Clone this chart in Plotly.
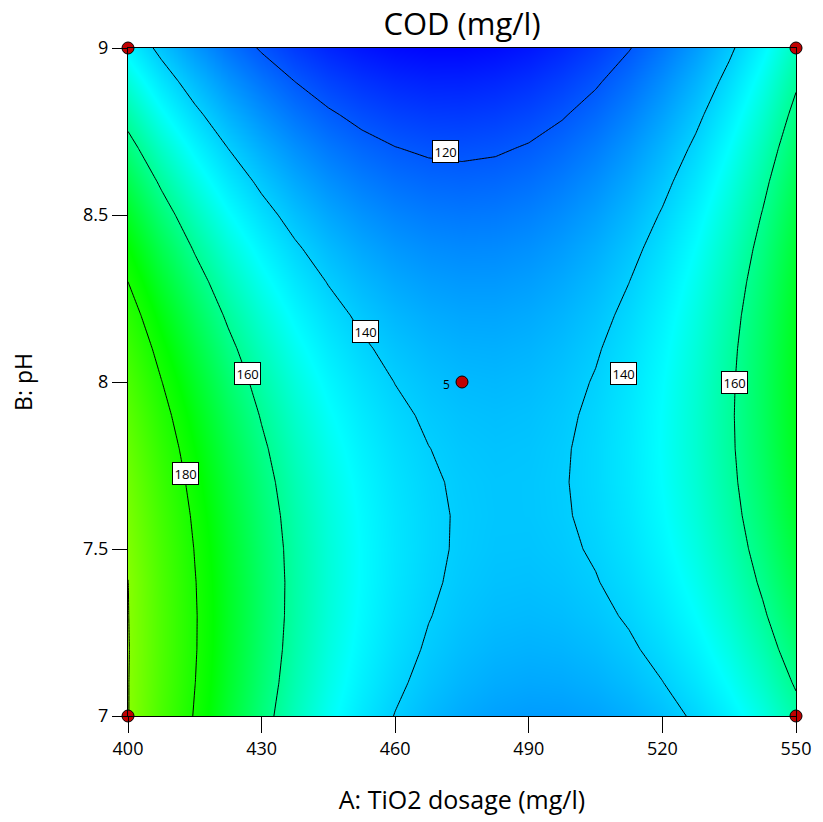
import plotly.graph_objects as go

# Factor levels (grid of the response surface)
tio2_dosage = [400, 407.5, 415, 422.5, 430, 437.5, 445, 452.5, 460, 467.5, 475,
               482.5, 490, 497.5, 505, 512.5, 520, 527.5, 535, 542.5, 550]
ph_levels = [7.0, 7.1, 7.2, 7.3, 7.4, 7.5, 7.6, 7.7, 7.8, 7.9, 8.0,
             8.1, 8.2, 8.3, 8.4, 8.5, 8.6, 8.7, 8.8, 8.9, 9.0]

# COD (mg/l), one row per pH level (bottom to top)
cod_ph_7_0 = [200.3, 189.17, 179.41, 170.56, 162.60, 155.54, 149.39, 144.13, 139.78, 136.32, 133.76,
              132.11, 131.35, 131.50, 132.54, 134.48, 137.33, 141.07, 145.72, 151.26, 157.70]
cod_ph_7_1 = [200.29, 189.77, 180.14, 171.42, 163.59, 156.66, 150.64, 145.51, 141.28, 137.96, 135.53,
              134.00, 133.38, 133.65, 134.82, 136.90, 139.87, 143.75, 148.52, 154.19, 160.77]
cod_ph_7_2 = [200.43, 190.03, 180.54, 171.94, 164.24, 157.45, 151.55, 146.55, 142.46, 139.26, 136.96,
              135.57, 135.07, 135.47, 136.78, 138.98, 142.08, 146.09, 150.99, 156.79, 163.50]
cod_ph_7_3 = [200.24, 189.97, 180.60, 172.13, 164.57, 157.90, 152.13, 147.27, 143.30, 140.23, 138.06,
              136.80, 136.43, 136.96, 138.40, 140.73, 143.96, 148.09, 153.13, 159.06, 165.89]
cod_ph_7_4 = [200.1, 189.57, 180.33, 172.00, 164.56, 158.02, 152.38, 147.65, 143.81, 140.87, 138.83,
              137.69, 137.46, 138.12, 139.68, 142.14, 145.51, 149.77, 154.93, 160.99, 167.96]
cod_ph_7_5 = [198.85, 188.84, 179.73, 171.53, 164.22, 157.81, 152.30, 147.69, 143.99, 141.18, 139.27,
              138.26, 138.15, 138.95, 140.64, 143.23, 146.72, 151.11, 156.41, 162.60, 169.69]
cod_ph_7_6 = [197.66, 187.78, 178.80, 170.72, 163.54, 157.26, 151.89, 147.41, 143.83, 141.15, 139.37,
              138.49, 138.52, 139.44, 141.26, 143.98, 147.60, 152.12, 157.55, 163.87, 171.09]
cod_ph_7_7 = [196.13, 186.38, 177.53, 169.59, 162.54, 156.39, 151.14, 146.79, 143.34, 140.79, 139.14,
              138.40, 138.55, 139.60, 141.55, 144.40, 148.15, 152.80, 158.35, 164.81, 172.16]
cod_ph_7_8 = [194.28, 184.66, 175.94, 168.12, 161.20, 155.18, 150.06, 145.84, 142.52, 140.10, 138.58,
              137.96, 138.25, 139.43, 141.51, 144.49, 148.37, 153.15, 158.83, 165.41, 172.89]
cod_ph_7_9 = [192.09, 182.60, 174.01, 166.32, 159.53, 153.64, 148.65, 144.56, 141.37, 139.08, 137.69,
              137.20, 137.61, 138.92, 141.13, 144.24, 148.25, 153.16, 158.97, 165.68, 173.29]
cod_ph_8_0 = [189.56, 180.20, 171.74, 164.18, 157.52, 151.76, 146.90, 142.94, 139.88, 137.72, 136.46,
              136.10, 136.64, 138.08, 140.42, 143.66, 147.80, 152.84, 158.78, 165.62, 173.36]
cod_ph_8_1 = [186.71, 177.48, 169.15, 161.72, 155.19, 149.56, 144.83, 141.00, 138.07, 136.04, 134.91,
              134.68, 135.35, 136.92, 139.39, 142.76, 147.03, 152.19, 158.26, 165.23, 173.10]
cod_ph_8_2 = [183.52, 174.42, 166.22, 158.92, 152.52, 147.02, 142.42, 138.72, 135.92, 134.02, 133.02,
              132.92, 133.72, 135.42, 138.01, 141.51, 145.91, 151.21, 157.41, 164.51, 172.51]
cod_ph_8_3 = [180.01, 171.04, 162.96, 155.79, 149.52, 144.15, 139.68, 136.11, 133.44, 131.67, 130.79,
              130.82, 131.75, 133.58, 136.31, 139.94, 144.47, 149.90, 156.22, 163.45, 171.58]
cod_ph_8_4 = [176.16, 167.31, 159.37, 152.33, 146.19, 140.95, 136.61, 133.16, 130.62, 128.98, 128.24,
              128.40, 129.46, 131.41, 134.27, 138.03, 142.69, 148.25, 154.71, 162.07, 170.32]
cod_ph_8_5 = [171.97, 163.26, 155.45, 148.54, 142.52, 137.41, 133.20, 129.89, 127.48, 125.96, 125.35,
              125.64, 126.83, 128.92, 131.90, 135.79, 140.58, 146.27, 152.86, 160.34, 168.73]
cod_ph_8_6 = [167.46, 158.88, 151.19, 144.41, 138.53, 133.55, 129.46, 126.28, 124.00, 122.62, 122.13,
              122.55, 123.87, 126.09, 129.20, 133.22, 138.14, 143.96, 150.67, 158.29, 166.81]
cod_ph_8_7 = [162.61, 154.16, 146.60, 139.95, 134.20, 129.35, 125.39, 122.34, 120.19, 118.93, 118.58,
              119.13, 120.58, 122.92, 126.17, 130.32, 135.36, 141.31, 148.16, 155.91, 164.55]
cod_ph_8_8 = [157.43, 149.11, 141.68, 135.16, 129.54, 124.81, 120.99, 118.07, 116.04, 114.92, 114.70,
              115.37, 116.95, 119.43, 122.80, 127.08, 132.26, 138.34, 145.31, 153.19, 161.97]
cod_ph_8_9 = [151.92, 143.72, 136.43, 130.04, 124.54, 119.95, 116.25, 113.46, 111.57, 110.57, 110.48,
              111.29, 112.99, 115.60, 119.11, 123.51, 128.82, 135.03, 142.13, 150.14, 159.04]
cod_ph_9_0 = [146.07, 138.01, 130.84, 124.58, 119.22, 114.75, 111.19, 108.52, 106.76, 105.90, 105.93,
              106.87, 108.70, 111.44, 115.08, 119.61, 125.05, 131.38, 138.62, 146.76, 155.79]

cod_grid = [cod_ph_7_0, cod_ph_7_1, cod_ph_7_2, cod_ph_7_3, cod_ph_7_4, cod_ph_7_5, cod_ph_7_6,
            cod_ph_7_7, cod_ph_7_8, cod_ph_7_9, cod_ph_8_0, cod_ph_8_1, cod_ph_8_2, cod_ph_8_3,
            cod_ph_8_4, cod_ph_8_5, cod_ph_8_6, cod_ph_8_7, cod_ph_8_8, cod_ph_8_9, cod_ph_9_0]

# Design points
design_a = [400, 400, 550, 550, 475]
design_b = [7, 9, 7, 9, 8]

# Contour levels
contour_start, contour_end, contour_step = 120, 200, 20

# Contour label positions (A, B, text)
label_a = [471.2, 453.4, 426.9, 412.8, 511.3, 536.1]
label_b = [8.689, 8.150, 8.024, 7.725, 8.024, 8.000]
label_text = ["120", "140", "160", "180", "140", "160"]

x_ticks = [400, 430, 460, 490, 520, 550]
y_ticks = [7, 7.5, 8, 8.5, 9]
y_tick_text = ["7", "7.5", "8", "8.5", "9"]

FONT = "Open Sans"

colorscale = [
    [0.0, "rgb(0,0,255)"],
    [0.368, "rgb(0,255,255)"],
    [0.607, "rgb(0,255,0)"],
    [1.0, "rgb(255,255,0)"],
]

fig = go.Figure()
fig.add_trace(go.Heatmap(
    x=tio2_dosage, y=ph_levels, z=cod_grid,
    colorscale=colorscale, zmin=105, zmax=222,
    zsmooth="best", showscale=False, hoverinfo="skip",
))
fig.add_trace(go.Contour(
    x=tio2_dosage, y=ph_levels, z=cod_grid,
    contours=dict(start=contour_start, end=contour_end, size=contour_step,
                  coloring="none", showlabels=False),
    line=dict(color="black", width=1.0, smoothing=0),
    showscale=False, hoverinfo="skip",
))
fig.add_trace(go.Scatter(
    x=design_a, y=design_b, mode="markers",
    marker=dict(color="#c00000", size=12, line=dict(color="black", width=1)),
    cliponaxis=False, hoverinfo="skip", showlegend=False,
))

for a, b, t in zip(label_a, label_b, label_text):
    fig.add_annotation(
        x=a, y=b, text=t, showarrow=False,
        font=dict(family=FONT, size=13, color="black"),
        bgcolor="white", bordercolor="black", borderwidth=1, borderpad=1.5,
    )

fig.add_annotation(
    x=design_a[4], y=design_b[4], text="5", showarrow=False, xshift=-16, yshift=-2,
    font=dict(family=FONT, size=12, color="black"),
)

fig.update_layout(
    width=823, height=822,
    margin=dict(l=128, r=27, t=48, b=106),
    paper_bgcolor="white", plot_bgcolor="white",
    font=dict(family=FONT, color="black"),
    showlegend=False,
    title=dict(text="COD (mg/l)", x=0.5, xref="paper", xanchor="center",
               y=0.971, yanchor="middle",
               font=dict(family=FONT, size=31, color="black")),
)
fig.update_xaxes(
    range=[400, 550], tickvals=x_ticks, ticks="outside", ticklen=16, tickcolor="black",
    tickfont=dict(size=18), showline=True, linecolor="black", linewidth=1, mirror=True,
    showgrid=False, zeroline=False,
    title=dict(text="A: TiO2 dosage (mg/l)", font=dict(size=25), standoff=32),
)
fig.update_yaxes(
    range=[7, 9], tickvals=y_ticks, ticktext=y_tick_text, ticks="outside", ticklen=15,
    tickcolor="black", tickfont=dict(size=18), showline=True, linecolor="black",
    linewidth=1, mirror=True, showgrid=False, zeroline=False,
    title=dict(text="B: pH", font=dict(size=23), standoff=44),
)

fig.write_html("out.html")
